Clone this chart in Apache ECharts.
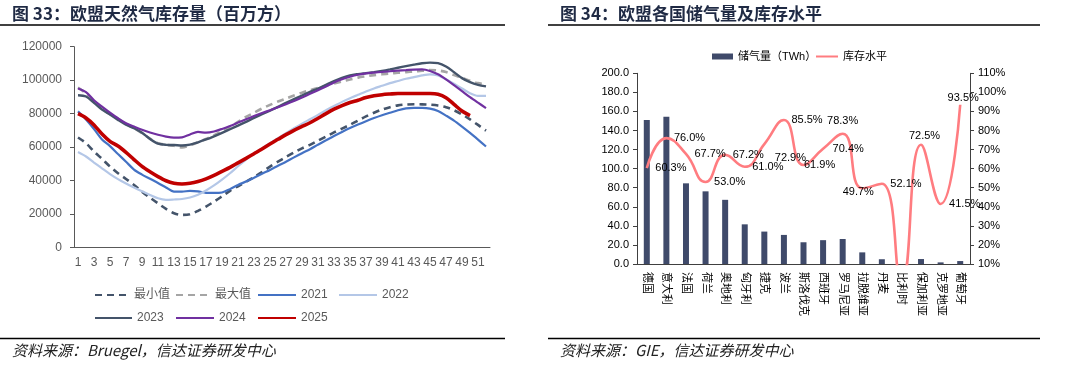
<!DOCTYPE html>
<html>
<head>
<meta charset="utf-8">
<script src="https://cdn.jsdelivr.net/npm/echarts@6/dist/echarts.min.js"></script>
<style>
html,body{margin:0;padding:0;background:#fff;}
#main{width:1080px;height:368px;}
</style>
</head>
<body>
<div id="main"></div>
<script>
// ---------- Left chart data (百万方) ----------
const weeks = ["1","2","3","4","5","6","7","8","9","10","11","12","13","14","15","16","17","18","19","20","21","22","23","24","25","26","27","28","29","30","31","32","33","34","35","36","37","38","39","40","41","42","43","44","45","46","47","48","49","50","51","52"];
const seriesNames = ["最小值","最大值","2021","2022","2023","2024","2025"];
const minVals = [65700,62300,57300,52900,48300,44300,40900,37300,33300,29700,26300,23000,20400,19400,19800,21800,24400,27300,30500,33800,36500,39200,42000,45000,48300,51200,54000,56700,59200,61300,63800,66200,68700,71000,73300,75800,78300,80500,82400,83800,84900,85400,85600,85500,85300,84800,83800,82000,79500,76500,73200,69800];
const maxVals = [95600,92000,87200,83000,79600,76800,73800,71300,68300,65000,62300,61300,60700,59800,61000,62900,64800,67000,69500,72000,75000,78000,80500,83000,85200,87200,89000,90800,92500,94000,95400,96800,98000,99200,100400,101500,102300,103000,103500,104000,104400,104800,105200,105600,106000,105800,104800,103000,101400,99600,98200,97500];
const y2021 = [81300,76500,70800,64500,60500,55800,51200,46500,43500,41000,38500,35800,33300,33300,33800,33500,32600,32500,32800,34800,37300,39300,41600,44000,46300,48800,51200,53800,56300,58700,61400,64000,66600,69000,71300,73400,75400,77300,79000,80500,82000,83100,83400,83400,83000,81600,78800,75800,72200,68400,64400,60300];
const y2022 = [57000,54300,50700,47200,43800,40800,38200,35800,33500,31300,29300,28400,28600,28900,29800,31500,34000,37000,40500,44300,48500,52500,56200,59200,62300,65300,68300,71200,74000,76600,79200,82000,84500,87000,89200,91200,93200,95000,96600,98200,99500,100800,101800,102800,103500,102800,100500,97800,95000,92200,90600,90600];
const y2023 = [91000,90200,86500,82400,79400,76200,73300,71200,68500,64800,62000,61300,61200,60900,61400,62800,64500,66400,68400,70600,72800,75000,77400,79600,81800,84000,86400,88600,90800,93000,95000,97200,99400,101300,102800,103600,104200,104800,105500,106400,107400,108400,109300,110100,110500,110200,108200,104800,101200,98800,97200,96300];
const y2024 = [95000,92800,88000,84200,80600,77200,74200,72200,70300,68700,67300,66200,65600,65800,67500,69000,68600,69300,70800,72600,74600,76600,78500,80300,82000,83800,85600,87500,89600,91800,94000,96200,98600,100500,102000,103200,104000,104500,104900,105300,105700,106000,106300,106400,105500,103500,100500,97000,93400,89800,86500,83300];
const y2025 = [79900,77400,73200,67800,63400,60600,56800,52500,48400,45200,42300,39800,38300,37900,38300,39300,40900,43000,45400,47800,50500,53200,56000,58800,61800,64600,67400,70000,72300,74500,77200,80000,82600,84800,86600,88000,89600,90600,91300,91700,92000,92000,92000,92000,92000,91600,89500,85500,81500,78800];
const leftTicks = [0,20000,40000,60000,80000,100000,120000];

// ---------- Right chart data ----------
const countries = ["德国","意大利","法国","荷兰","奥地利","匈牙利","捷克","波兰","斯洛伐克","西班牙","罗马尼亚","拉脱维亚","丹麦","比利时","保加利亚","克罗地亚","葡萄牙"];
const storageTWh = [151,154.5,84.6,76.2,67.3,41.6,34,30.5,22.8,25,26.2,12.2,5,0,5.2,1.7,3.1];
const fillLevel = [60.3,76.0,67.7,53.0,67.2,61.0,72.9,85.5,61.9,70.4,78.3,49.7,52.1,0,72.5,41.5,93.5];
const barName = "储气量（TWh）";
const lineName = "库存水平";

// label placement (layout only)
const labelPlace = [
  {position:'right',distance:8},{position:'right',distance:7},{position:'right',distance:8},{position:'right',distance:8},
  {position:'right',distance:7},{position:'right',distance:7},
  {position:[11,14],align:'left',verticalAlign:'middle'},
  {position:'right',distance:7},
  {position:'right',distance:0},{position:'right',distance:9},
  {position:[0.5,-12.2],align:'center',verticalAlign:'middle'},
  {position:[-3.5,4.5],align:'center',verticalAlign:'middle'},
  {position:'right',distance:8},{show:false},
  {position:[4,-8.5],align:'center',verticalAlign:'middle'},
  {position:'right',distance:8},
  {position:[3.5,-6],align:'center',verticalAlign:'middle'}
];

const gray = '#595959';
const lineDefs = [
  {name:seriesNames[0], data:minVals, color:'#44546A', width:2.6, type:[7,5]},
  {name:seriesNames[1], data:maxVals, color:'#A5A5A5', width:2.6, type:[7,5]},
  {name:seriesNames[2], data:y2021, color:'#4472C4', width:2.2, type:'solid'},
  {name:seriesNames[3], data:y2022, color:'#B4C7E7', width:2.2, type:'solid'},
  {name:seriesNames[4], data:y2023, color:'#44546A', width:2.4, type:'solid'},
  {name:seriesNames[5], data:y2024, color:'#7030A0', width:2.2, type:'solid'},
  {name:seriesNames[6], data:y2025, color:'#C00000', width:3.6, type:'solid'}
];

const leftSeries = lineDefs.map(d => ({
  name:d.name, type:'line', xAxisIndex:0, yAxisIndex:0, data:d.data,
  symbol:'none', smooth:0.3, color:d.color,
  lineStyle:{color:d.color, width:d.width, type:d.type}
}));

const legendPos = [
  {n:0,left:94,top:289,w:34},{n:1,left:175,top:289,w:34},{n:2,left:257,top:289,w:38},{n:3,left:338,top:289,w:38},
  {n:4,left:94,top:312,w:37},{n:5,left:175,top:312,w:38},{n:6,left:257,top:312,w:38}
];
const legends = legendPos.map(p => ({
  data:[seriesNames[p.n]], left:p.left, top:p.top, padding:0, itemWidth:p.w, itemHeight:1,
  textStyle:{color:gray, fontSize:12, fontFamily:'Liberation Sans, Noto Sans CJK SC'}
}));
legends.push({
  data:[{name:barName, icon:'rect'}], left:712, top:51, padding:0, itemWidth:21, itemHeight:6,
  textStyle:{color:'#000', fontSize:11, fontFamily:'Liberation Sans, Noto Sans CJK SC'}
});
legends.push({
  data:[lineName], left:815, top:51, padding:0, itemWidth:22, itemHeight:1,
  textStyle:{color:'#000', fontSize:11, fontFamily:'Liberation Sans, Noto Sans CJK SC'}
});

const chart = echarts.init(document.getElementById('main'), null, {renderer:'canvas'});
const option = {
  backgroundColor:'#fff',
  animation:false,
  textStyle:{fontFamily:'Liberation Sans, Noto Sans CJK SC'},
  title:[
    {text:'图 33：欧盟天然气库存量（百万方）', left:12, top:5, padding:0,
     textStyle:{fontSize:17, fontWeight:'bold', color:'#1F2A44', fontFamily:'Noto Sans CJK SC'}},
    {text:'图 34：欧盟各国储气量及库存水平', left:560, top:5, padding:0,
     textStyle:{fontSize:17, fontWeight:'bold', color:'#1F2A44', fontFamily:'Noto Sans CJK SC'}}
  ],
  legend:legends,
  grid:[
    {left:74, top:46.7, width:416, height:200.6, containLabel:false},
    {left:637, top:73.3, width:333, height:190.7, containLabel:false}
  ],
  xAxis:[
    {type:'category', gridIndex:0, data:weeks, boundaryGap:true,
     axisLine:{lineStyle:{color:gray, width:1}},
     axisTick:{interval:0, length:5, lineStyle:{color:gray}},
     axisLabel:{interval:1, color:gray, fontSize:12, margin:9}},
    {type:'category', gridIndex:1, data:countries, boundaryGap:true,
     axisLine:{lineStyle:{color:'#404040', width:1}},
     axisTick:{interval:0, length:4, lineStyle:{color:'#404040'}},
     axisLabel:{interval:0, rotate:-90, color:'#000', fontSize:11, margin:8}}
  ],
  yAxis:[
    {type:'value', gridIndex:0, min:leftTicks[0], max:leftTicks[leftTicks.length-1], interval:20000,
     axisLine:{show:true, lineStyle:{color:gray}}, axisTick:{show:true, length:4, lineStyle:{color:gray}},
     splitLine:{show:false}, axisLabel:{color:gray, fontSize:12, margin:12, formatter:v=>String(v)}},
    {type:'value', gridIndex:1, min:0, max:200, interval:20,
     axisLine:{show:true, lineStyle:{color:'#404040'}}, axisTick:{show:true, length:4, lineStyle:{color:'#404040'}},
     splitLine:{show:false}, axisLabel:{color:'#000', fontSize:11, margin:8, formatter:v=>v.toFixed(1)}},
    {type:'value', gridIndex:1, position:'right', min:10, max:110, interval:10,
     axisLine:{show:true, lineStyle:{color:'#404040'}}, axisTick:{show:true, length:4, lineStyle:{color:'#404040'}},
     splitLine:{show:false}, axisLabel:{color:'#000', fontSize:11, margin:8, formatter:v=>v+'%'}}
  ],
  series: leftSeries.concat([
    {name:barName, type:'bar', xAxisIndex:1, yAxisIndex:1, data:storageTWh, barWidth:6,
     itemStyle:{color:'#3F4A6A'}, color:'#3F4A6A'},
    {name:lineName, type:'line', xAxisIndex:1, yAxisIndex:2, symbol:'circle', symbolSize:1, showSymbol:true, smooth:0.5, clip:true,
     color:'#FF7C80', itemStyle:{color:'rgba(255,124,128,0)'}, lineStyle:{color:'#FF7C80', width:2.6},
     labelLayout:{hideOverlap:false},
     label:{show:true, color:'#000', fontSize:11, formatter:p=>Number(p.value).toFixed(1)+'%'},
     data: fillLevel.map((v,i)=>({value:v, label:labelPlace[i]}))}
  ]),
  graphic:[
    {type:'line', shape:{x1:0,y1:25,x2:505,y2:25}, style:{stroke:'#000', lineWidth:1.4}},
    {type:'line', shape:{x1:548,y1:25,x2:1040,y2:25}, style:{stroke:'#000', lineWidth:1.4}},
    {type:'line', shape:{x1:0,y1:338.5,x2:505,y2:338.5}, style:{stroke:'#000', lineWidth:1.6}},
    {type:'line', shape:{x1:548,y1:338.5,x2:1040,y2:338.5}, style:{stroke:'#000', lineWidth:1.6}},
    {type:'text', left:12, top:343, style:{text:'资料来源：Bruegel，信达证券研发中心', fill:'#222', font:'italic 15px "Noto Sans CJK SC"'}},
    {type:'text', left:560, top:343, style:{text:'资料来源：GIE，信达证券研发中心', fill:'#222', font:'italic 15px "Noto Sans CJK SC"'}}
  ]
};
chart.setOption(option);
</script>
</body>
</html>
